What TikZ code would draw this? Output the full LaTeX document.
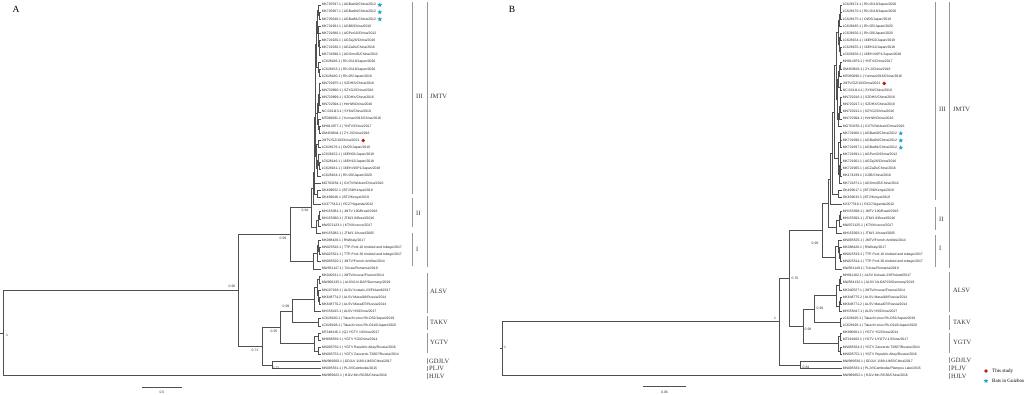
\documentclass[tikz,border=0pt]{standalone}
\usepackage{fontspec}
\setmainfont{Liberation Serif}
\newfontfamily\lsans{Liberation Sans}
\usetikzlibrary{calc,shapes.geometric}
\definecolor{treegray}{RGB}{80,80,80}
\definecolor{brkgray}{RGB}{150,150,150}
\definecolor{starblue}{RGB}{30,160,205}
\definecolor{dotred}{RGB}{200,20,30}
\newcommand\mknode[4]{%
  \path let \p1=($(#3)!.5!(#4)$) in (#2,\y1) coordinate (#1);
  \draw[br] (#1) |- (#3);
  \draw[br] (#1) |- (#4);}
\newcommand\lfA[3]{\node[leaf] (A#1) at (#2,{5+7.13*#1}) {#3};}
\newcommand\lfB[3]{\node[leaf] (B#1) at (#2,{5+7.13*#1}) {#3};}
\begin{document}
\begin{tikzpicture}[x=1pt,y=-1pt,
  br/.style={draw=treegray,line width=0.6pt},
  leaf/.style={anchor=west,inner sep=0.6pt,font=\lsans\fontsize{3.4}{4}\selectfont,text=black!85},
  sup/.style={inner sep=0pt,font=\lsans\fontsize{3.4}{4}\selectfont,text=black!80},
  brk/.style={draw=brkgray,line width=0.6pt},
  clade/.style={anchor=west,inner sep=0pt,font=\fontsize{6.5}{7}\selectfont,text=black!80},
  panel/.style={inner sep=0pt,font=\fontsize{9.5}{10}\selectfont},
  bstar/.style={star,star points=5,star point ratio=2.4,fill=starblue,inner sep=0pt,minimum size=5pt},
  rdot/.style={circle,fill=dotred,inner sep=0pt,minimum size=3.8pt},
  legtext/.style={anchor=west,inner sep=0pt,font=\fontsize{5}{6}\selectfont}]
\useasboundingbox (0,0) rectangle (1024,395);
\fill[white] (0,0) rectangle (1024,395);

% ================= PANEL A =================
\node[panel] (labA) at (16,9) {A};
\lfA{0}{321}{MK725597.1 | AGBat40/China/2012}
\lfA{1}{321}{MK725607.1 | AGBat94/China/2012}
\lfA{2}{321}{MK725640.1 | AGBat81/China/2012}
\lfA{3}{321}{MK721901.1 | AGB6/China/2016}
\lfA{4}{321}{MK721880.1 | AGPer10/China/2012}
\lfA{5}{321}{MK721920.1 | AGTaj26/China/2016}
\lfA{6}{321}{MK721930.1 | AGZa2b/China/2016}
\lfA{7}{321}{MK721890.1 | AGSmn35/China/2012}
\lfA{8}{321}{LC628186.1 | Rh-O119/Japan/2020}
\lfA{9}{321}{LC628153.1 | Rh-O118/Japan/2020}
\lfA{10}{321}{LC628180.1 | Rh-O5/Japan/2019}
\lfA{11}{321}{MN720875.1 | SZDHS/China/2016}
\lfA{12}{321}{MN720890.1 | SZYG2/China/2016}
\lfA{13}{321}{MN720899.1 | SZDHX/China/2016}
\lfA{14}{321}{MN722094.1 | HnHW/China/2016}
\lfA{15}{321}{NC 024113.1 | SY84/China/2010}
\lfA{16}{321}{MT080091.1 | Yunnan2016/China/2016}
\lfA{17}{321}{MH814977.1 | YNTV/China/2017}
\lfA{18}{321}{OM459844.1 | ZY-J/China/2016}
\lfA{19}{321}{JMTV/GZ/10/China/2021}
\lfA{20}{321}{LC628176.1 | Ot/05/Japan/2019}
\lfA{21}{321}{LC628152.1 | 16EH02/Japan/2018}
\lfA{22}{321}{LC628146.1 | 16EH12/Japan/2018}
\lfA{23}{321}{LC628161.1 | 16EH-NSP1/Japan/2018}
\lfA{24}{321}{LC628164.1 | Rh-O9/Japan/2020}
\lfA{25}{321}{MG703254.1 | GXTV/Wuhan/China/2016}
\lfA{26}{321}{OK499652.1 | BT236/Kenya/2019}
\lfA{27}{321}{OK499646.1 | BT2/Kenya/2019}
\lfA{28}{321}{KX377510.1 | RC27/Uganda/2012}
\lfA{29}{321}{MH155081.1 | JMTV 100/Brazil/2016}
\lfA{30}{321}{MH155080.1 | JTM/1 0/Brazil/2016}
\lfA{31}{321}{MW072123.1 | KTV/Kosovo/2017}
\lfA{32}{321}{MH155082.1 | JTM/1 1/Israel/2005}
\lfA{33}{321}{MK088428.1 | RW/Italy/2017}
\lfA{34}{321}{MN025516.1 | TTP-Pool-10 trinidad and tobago/2017}
\lfA{35}{321}{MN025521.1 | TTP-Pool-30 trinidad and tobago/2017}
\lfA{36}{321}{MN095520.1 | JMTV/French Antilles/2014}
\lfA{37}{321}{MW561147.1 | Tulcea/Romania/2019}
\lfA{38}{321}{MK040531.1 | JMTV/mouse/France/2014}
\lfA{39}{321}{MW996135.1 | ALSV/LN-DAP/Germany/2019}
\lfA{40}{321}{MN107168.1 | ALSV Kutsalo-23/Finland/2017}
\lfA{41}{321}{MK648774.2 | ALSV Masal18/Russia/2014}
\lfA{42}{321}{MK648770.2 | ALSV Masal07/Russia/2014}
\lfA{43}{321}{MH158415.1 | ALSV H3/China/2017}
\lfA{44}{321}{LC628190.1 | Takachi virus Rh-O52/Japan/2019}
\lfA{45}{321}{LC628198.1 | Takachi virus Rh-O110/Japan/2020}
\lfA{46}{321}{MT248416.1 | QJ YGTV 1/China/2017}
\lfA{47}{321}{MH688539.1 | YGTV YG/China/2014}
\lfA{48}{321}{MN095750.1 | YGTV Republic Altay/Russia/2016}
\lfA{49}{321}{MN095753.1 | YGTV Zaozersk-T2807/Russia/2014}
\lfA{50}{321}{MW989600.1 | GDJLV 1189-1/465/China/2017}
\lfA{51}{321}{MN095531.1 | PLJV/Cambodia/2015}
\lfA{52}{321}{MW989622.1 | HJLV-Mn-RG56/China/2016}

\node[bstar] (sA0) at ([xshift=3pt]A0.east) {};
\node[bstar] (sA1) at ([xshift=3pt]A1.east) {};
\node[bstar] (sA2) at ([xshift=3pt]A2.east) {};
\node[rdot] (dA19) at ([xshift=3pt]A19.east) {};

\mknode{na12}{319.5}{A1}{A2}
\mknode{na02}{318.5}{A0}{na12}
\mknode{na67}{319.5}{A6}{A7}
\mknode{na57}{319}{A5}{na67}
\mknode{na47}{318.5}{A4}{na57}
\mknode{na37}{318}{A3}{na47}
\mknode{na07}{317}{na02}{na37}
\mknode{na910}{319.5}{A9}{A10}
\mknode{na810}{318.5}{A8}{na910}
\mknode{na010}{316}{na07}{na810}
\mknode{na1112}{319.5}{A11}{A12}
\mknode{na1314}{319.5}{A13}{A14}
\mknode{na1114}{319}{na1112}{na1314}
\mknode{na1115}{318}{na1114}{A15}
\mknode{na1718}{319.5}{A17}{A18}
\mknode{na1618}{318.5}{A16}{na1718}
\mknode{na1118}{317}{na1115}{na1618}
\mknode{na018}{315.5}{na010}{na1118}
\mknode{na1920}{318.5}{A19}{A20}
\mknode{na2223}{319.5}{A22}{A23}
\mknode{na2123}{318.5}{A21}{na2223}
\mknode{na2124}{317.5}{na2123}{A24}
\mknode{na1924}{316.5}{na1920}{na2124}
\mknode{na024}{315}{na018}{na1924}
\mknode{na025}{314.5}{na024}{A25}
\mknode{na2627}{317.5}{A26}{A27}
\mknode{na027}{314}{na025}{na2627}
\mknode{naIII}{313}{na027}{A28}
\mknode{na2930}{319.5}{A29}{A30}
\mknode{na2931}{318.5}{na2930}{A31}
\mknode{naII}{316}{na2931}{A32}
\mknode{naK}{311}{naIII}{naII}
\mknode{na3435}{319.5}{A34}{A35}
\mknode{na3335}{318.5}{A33}{na3435}
\mknode{na3336}{317}{na3335}{A36}
\mknode{naI}{313}{na3336}{A37}
\mknode{naJ}{290}{naK}{naI}
\mknode{na3839}{319.5}{A38}{A39}
\mknode{na4142}{319.5}{A41}{A42}
\mknode{na4042}{318.5}{A40}{na4142}
\mknode{na3842}{317.5}{na3839}{na4042}
\mknode{naAL}{314}{na3842}{A43}
\mknode{naTK}{318}{A44}{A45}
\mknode{naS}{292}{naAL}{naTK}
\mknode{na4647}{318.5}{A46}{A47}
\mknode{na4849}{318}{A48}{A49}
\mknode{naYG}{314}{na4647}{na4849}
\mknode{naNf}{280}{naS}{naYG}
\mknode{naNt}{272}{A50}{A51}
\mknode{naNw}{262}{naNf}{naNt}
\mknode{naNo}{238}{naJ}{naNw}
\mknode{naR}{3}{naNo}{A52}
\draw[br] (naR) -- ++(-3,0);

\node[sup] (pA0) at (7,335) {1};
\node[sup] (pA1) at (232,286) {0.96};
\node[sup] (pA2) at (283,238) {0.99};
\node[sup] (pA3) at (305,210) {0.94};
\node[sup] (pA4) at (286,306) {0.99};
\node[sup] (pA5) at (274,331) {0.95};
\node[sup] (pA6) at (255,350) {0.71};
\node[sup] (pA7) at (276,368) {0.77};

% scale bar A
\draw[br] (142,387) -- (182,387);
\node[sup] (scA) at (162,392.5) {0.5};

% clade brackets A
\draw[brk] (412,2) -- (412,194);
\draw[brk] (412,198) -- (412,227);
\draw[brk] (412,233) -- (412,266);
\draw[brk] (427,2) -- (427,267);
\draw[brk] (427,273) -- (427,313);
\draw[brk] (427,316) -- (427,330);
\draw[brk] (427,333) -- (427,353);
\draw[brk] (427,358) -- (427,364);
\draw[brk] (427,366) -- (427,371);
\draw[brk] (427,373) -- (427,379);
\node[clade] (cA1) at (416,96) {III};
\node[clade] (cA2) at (416,213) {II};
\node[clade] (cA3) at (416,249) {I};
\node[clade] (cA4) at (430,96) {JMTV};
\node[clade] (cA5) at (430,291) {ALSV};
\node[clade] (cA6) at (430,322) {TAKV};
\node[clade] (cA7) at (430,342) {YGTV};
\node[clade] (cA8) at (429,361) {GDJLV};
\node[clade] (cA9) at (429,368.5) {PLJV};
\node[clade] (cA10) at (429,376) {HJLV};

% ================= PANEL B =================
\node[panel] (labB) at (512,9) {B};
\lfB{0}{842}{LC628174.1 | Rh-O119/Japan/2020}
\lfB{1}{842}{LC628170.1 | Rh-O118/Japan/2020}
\lfB{2}{842}{LC628175.1 | Ot/05/Japan/2019}
\lfB{3}{842}{LC628185.1 | Rh-O5/Japan/2020}
\lfB{4}{842}{LC628156.1 | Rh-O9/Japan/2020}
\lfB{5}{842}{LC628154.1 | 16EH02/Japan/2018}
\lfB{6}{842}{LC628155.1 | 16EH12/Japan/2018}
\lfB{7}{842}{LC628158.1 | 16EH-NSP1/Japan/2018}
\lfB{8}{842}{MH814979.1 | YNTV/China/2017}
\lfB{9}{842}{OM459843.1 | ZY-J/China/2016}
\lfB{10}{842}{MT080099.1 | Yunnan2016/China/2016}
\lfB{11}{842}{JMTV/GZ/10/China/2021}
\lfB{12}{842}{NC 024114.1 | SY84/China/2010}
\lfB{13}{842}{MN720216.1 | SZDHS/China/2016}
\lfB{14}{842}{MN720217.1 | SZDHX/China/2016}
\lfB{15}{842}{MN720211.1 | SZYG2/China/2016}
\lfB{16}{842}{MN722094.1 | HnHW/China/2016}
\lfB{17}{842}{MG703253.1 | GXTV/Wuhan/China/2016}
\lfB{18}{842}{MK721666.1 | AGBat40/China/2012}
\lfB{19}{842}{MK721690.1 | AGBat94/China/2012}
\lfB{20}{842}{MK721697.1 | AGBat81/China/2012}
\lfB{21}{842}{MK721891.1 | AGPer10/China/2012}
\lfB{22}{842}{MK721901.1 | AGTaj26/China/2016}
\lfB{23}{842}{MK721905.1 | AGZa2b/China/2016}
\lfB{24}{842}{MK174239.1 | XJ06/China/2016}
\lfB{25}{842}{MK721871.1 | AGSmn35/China/2012}
\lfB{26}{842}{OK499617.1 | BT236/Kenya/2019}
\lfB{27}{842}{OK499633.1 | BT2/Kenya/2019}
\lfB{28}{842}{KX377516.1 | RC27/Uganda/2012}
\lfB{29}{842}{MH155098.1 | JMTV 100/Brazil/2016}
\lfB{30}{842}{MH155091.1 | JTM/1 0/Brazil/2016}
\lfB{31}{842}{MW072125.1 | KTV/Kosovo/2017}
\lfB{32}{842}{MH155093.1 | JTM/1 1/Israel/2005}
\lfB{33}{842}{MN095525.1 | JMTV/French Antilles/2014}
\lfB{34}{842}{MK088426.1 | RW/Italy/2017}
\lfB{35}{842}{MN025519.1 | TTP-Pool-10 trinidad and tobago/2017}
\lfB{36}{842}{MN025514.1 | TTP-Pool-30 trinidad and tobago/2017}
\lfB{37}{842}{MW561149.1 | Tulcea/Romania/2019}
\lfB{38}{842}{MH911102.1 | ALSV Kutsalo-23/Finland/2017}
\lfB{39}{842}{MW584132.1 | ALSV NLGAP20/Germany/2019}
\lfB{40}{842}{MK040527.1 | JMTV/mouse/France/2014}
\lfB{41}{842}{MK648775.2 | ALSV Masal18/Russia/2014}
\lfB{42}{842}{MK648771.2 | ALSV Masal07/Russia/2014}
\lfB{43}{842}{MH158417.1 | ALSV H3/China/2017}
\lfB{44}{842}{LC628195.1 | Takachi virus Rh-O52/Japan/2019}
\lfB{45}{842}{LC628196.1 | Takachi virus Rh-O110/Japan/2020}
\lfB{46}{842}{MK880601.1 | YGTV YG/China/2014}
\lfB{47}{842}{MT249403.1 | YGTV 1/YGTV-1/China/2017}
\lfB{48}{842}{MN095524.2 | YGTV Zaozersk-T2807/Russia/2014}
\lfB{49}{842}{MN095752.1 | YGTV Republic Altay/Russia/2016}
\lfB{50}{842}{MW989630.1 | GDJLV 1189-1/465/China/2017}
\lfB{51}{842}{MN095533.1 | PLJV/Cambodia/Plampou Lake/2015}
\lfB{52}{842}{MW989652.1 | HJLV-Mn-RG56/China/2016}

\node[rdot] (dB11) at ([xshift=3pt]B11.east) {};
\node[bstar] (sB18) at ([xshift=3pt]B18.east) {};
\node[bstar] (sB19) at ([xshift=3pt]B19.east) {};
\node[bstar] (sB20) at ([xshift=3pt]B20.east) {};

\mknode{nb01}{840.5}{B0}{B1}
\mknode{nb02}{840}{nb01}{B2}
\mknode{nb03}{839.5}{nb02}{B3}
\mknode{nb45}{840.5}{B4}{B5}
\mknode{nb67}{840.5}{B6}{B7}
\mknode{nb47}{839.5}{nb45}{nb67}
\mknode{nb07}{838}{nb03}{nb47}
\mknode{nb89}{840}{B8}{B9}
\mknode{nb810}{839.5}{nb89}{B10}
\mknode{nb1112}{840}{B11}{B12}
\mknode{nb812}{838.5}{nb810}{nb1112}
\mknode{nb1314}{840.5}{B13}{B14}
\mknode{nb1315}{840}{nb1314}{B15}
\mknode{nb1316}{839.5}{nb1315}{B16}
\mknode{nb1317}{838.5}{nb1316}{B17}
\mknode{nb817}{837.5}{nb812}{nb1317}
\mknode{nb017}{836}{nb07}{nb817}
\mknode{nb1819}{840.5}{B18}{B19}
\mknode{nb1820}{840}{nb1819}{B20}
\mknode{nb2122}{840.5}{B21}{B22}
\mknode{nb2324}{840.5}{B23}{B24}
\mknode{nb2124}{840}{nb2122}{nb2324}
\mknode{nb2125}{839.5}{nb2124}{B25}
\mknode{nb1825}{838.5}{nb1820}{nb2125}
\mknode{nb025}{834.5}{nb017}{nb1825}
\mknode{nb2627}{838.5}{B26}{B27}
\mknode{nb027}{832.5}{nb025}{nb2627}
\mknode{nbIII}{830.5}{nb027}{B28}
\mknode{nb2930}{840.5}{B29}{B30}
\mknode{nb2931}{839.5}{nb2930}{B31}
\mknode{nbII}{836.5}{nb2931}{B32}
\mknode{nbK}{828}{nbIII}{nbII}
\mknode{nb3536}{840.5}{B35}{B36}
\mknode{nb3436}{839.5}{B34}{nb3536}
\mknode{nb3336}{838}{B33}{nb3436}
\mknode{nbI}{835}{nb3336}{B37}
\mknode{nbJ}{822}{nbK}{nbI}
\mknode{nb3839}{840.5}{B38}{B39}
\mknode{nb3840}{839.5}{nb3839}{B40}
\mknode{nb4142}{840.5}{B41}{B42}
\mknode{nb4143}{839.5}{nb4142}{B43}
\mknode{nbAL}{836}{nb3840}{nb4143}
\mknode{nbTK}{840}{B44}{B45}
\mknode{nbS}{814}{nbAL}{nbTK}
\mknode{nb4647}{840.5}{B46}{B47}
\mknode{nb4849}{840}{B48}{B49}
\mknode{nbYG}{838}{nb4647}{nb4849}
\mknode{nbR}{803}{nbS}{nbYG}
\mknode{nbQ}{789}{nbJ}{nbR}
\mknode{nbG}{800}{B50}{B51}
\mknode{nbP}{779}{nbQ}{nbG}
\mknode{nbRoot}{502}{nbP}{B52}
\draw[br] (nbRoot) -- ++(-2,0);

\node[sup] (pB0) at (505,347) {1};
\node[sup] (pB1) at (775,318) {1};
\node[sup] (pB2) at (795,278) {0.76};
\node[sup] (pB3) at (815,243) {0.99};
\node[sup] (pB4) at (820,308) {0.99};
\node[sup] (pB5) at (808,329) {0.98};
\node[sup] (pB6) at (806,367) {0.84};

% scale bar B
\draw[br] (643,386) -- (686,386);
\node[sup] (scB) at (664.5,392) {0.06};

% clade brackets B
\draw[brk] (935,2) -- (935,200);
\draw[brk] (935,207) -- (935,230);
\draw[brk] (935,235) -- (935,267);
\draw[brk] (949,2) -- (949,268);
\draw[brk] (949,272) -- (949,312);
\draw[brk] (949,315) -- (949,330);
\draw[brk] (949,333) -- (949,353);
\draw[brk] (949,357) -- (949,363);
\draw[brk] (949,365) -- (949,371);
\draw[brk] (949,373) -- (949,379);
\node[clade] (cB1) at (939,109) {III};
\node[clade] (cB2) at (939,219) {II};
\node[clade] (cB3) at (939,248) {I};
\node[clade] (cB4) at (953,109) {JMTV};
\node[clade] (cB5) at (953,290) {ALSV};
\node[clade] (cB6) at (953,322) {TAKV};
\node[clade] (cB7) at (953,342) {YGTV};
\node[clade] (cB8) at (951,360) {GDJLV};
\node[clade] (cB9) at (951,368) {PLJV};
\node[clade] (cB10) at (951,376) {HJLV};

% legend
\node[rdot] (lgd1) at (986,371) {};
\node[legtext] (lgt1) at (992,371) {This study};
\node[bstar] (lgd2) at (986,381) {};
\node[legtext] (lgt2) at (992,381) {Bats in Guizhou};
\end{tikzpicture}
\end{document}
